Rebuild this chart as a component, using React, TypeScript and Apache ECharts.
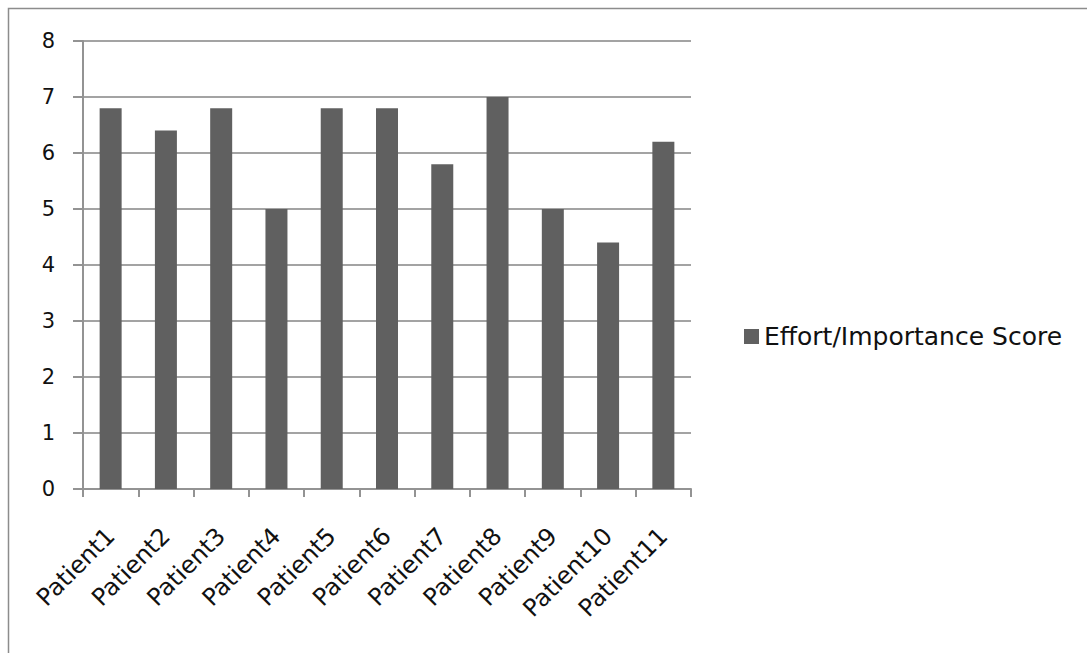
import React, { useEffect, useRef } from "react";
import * as echarts from "echarts";

const categories = ["Patient1", "Patient2", "Patient3", "Patient4", "Patient5", "Patient6", "Patient7", "Patient8", "Patient9", "Patient10", "Patient11"];
const scores = [6.8, 6.4, 6.8, 5.0, 6.8, 6.8, 5.8, 7.0, 5.0, 4.4, 6.2];
const seriesName = "Effort/Importance Score";

export default function App() {
  const ref = useRef<HTMLDivElement>(null);
  useEffect(() => {
    if (!ref.current) return;
    const chart = echarts.init(ref.current, undefined, { renderer: "svg" });
    const font = "DejaVu Sans";
    chart.setOption({
      animation: false,
      backgroundColor: "#ffffff",
      graphic: [
        {
          type: "rect",
          shape: { x: 8.5, y: 8.5, width: 1100, height: 700 },
          style: { fill: "none", stroke: "#8c8c8c", lineWidth: 1.5 },
          silent: true,
        },
      ],
      grid: { left: 83, top: 41, right: 396, bottom: 164, containLabel: false },
      legend: {
        orient: "vertical",
        left: 739,
        top: 319,
        icon: "rect",
        itemWidth: 15,
        itemHeight: 15,
        itemGap: 10,
        textStyle: { fontFamily: font, fontSize: 25, color: "#111" },
        data: [seriesName],
      },
      xAxis: {
        type: "category",
        data: categories,
        boundaryGap: true,
        axisLine: { show: true, lineStyle: { color: "#939393", width: 2 } },
        axisTick: { show: true, interval: 0, length: 8, alignWithLabel: false, lineStyle: { color: "#939393", width: 2 } },
        axisLabel: { interval: 0, rotate: 45, margin: 43, fontFamily: font, fontSize: 24, color: "#111" },
        splitLine: { show: false },
      },
      yAxis: {
        type: "value",
        min: 0,
        max: 8,
        interval: 1,
        axisLine: { show: true, lineStyle: { color: "#939393", width: 2 } },
        axisTick: { show: true, length: 10, lineStyle: { color: "#939393", width: 2 } },
        axisLabel: { margin: 28, fontFamily: font, fontSize: 21, color: "#111" },
        splitLine: { show: true, lineStyle: { color: "#a3a3a3", width: 2 } },
      },
      series: [
        {
          name: seriesName,
          type: "bar",
          data: scores,
          barWidth: 22,
          itemStyle: { color: "#606060" },
        },
      ],
    });
    return () => chart.dispose();
  }, []);
  return (
    <div
      ref={ref}
      style={{ position: "absolute", left: 0, top: 0, width: 1087, height: 653 }}
    />
  );
}
